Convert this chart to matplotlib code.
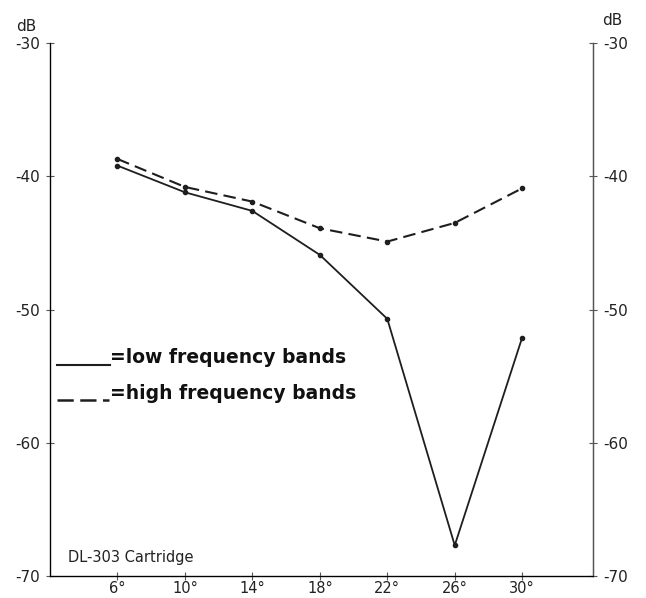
import numpy as np
import matplotlib
matplotlib.use('Agg')
import matplotlib.pyplot as plt

# values
angles = [6, 10, 14, 18, 22, 26, 30]
angle_labels = ['6°', '10°', '14°', '18°', '22°', '26°', '30°']
low_freq = [-39.2, -41.2, -42.6, -45.9, -50.7, -67.7, -52.1]
high_freq = [-38.7, -40.8, -41.9, -43.9, -44.9, -43.5, -40.9]
db_ticks = [-30, -40, -50, -60, -70]

fig = plt.figure(figsize=(6.46, 5.98), dpi=100)
ax = fig.add_axes([0.0774, 0.0368, 0.8406, 0.8912])

line_color = '#1e1e1e'
ax.plot(angles, low_freq, color=line_color, linewidth=1.3, marker='o', markersize=3)
ax.plot(angles, high_freq, color=line_color, linewidth=1.5, linestyle=(0, (6, 3)),
        marker='o', markersize=3)

ax.set_xlim(2, 34.2)
ax.set_ylim(-70, -30)
ax.spines['top'].set_visible(False)
for side in ['left', 'right', 'bottom']:
    ax.spines[side].set_color('#555555')
    ax.spines[side].set_linewidth(1.0)

ax.set_xticks(angles)
ax.set_xticklabels(angle_labels, fontsize=10.5, color='#222222')
ax.set_yticks(db_ticks)
ax.set_yticklabels([str(t) for t in db_ticks], fontsize=11, color='#222222')
ax.tick_params(axis='both', direction='inout', length=6, color='#555555')
ax.tick_params(axis='x', pad=0.5)
ax.tick_params(axis='y', pad=4)

# mirrored axis on the right
ax2 = ax.twinx()
ax2.set_ylim(-70, -30)
ax2.set_yticks(db_ticks)
ax2.set_yticklabels([str(t) for t in db_ticks], fontsize=11, color='#222222')
ax2.tick_params(axis='y', direction='inout', length=6, color='#555555', pad=4)
ax2.spines['top'].set_visible(False)
ax2.spines['right'].set_color('#555555')

fig.text(0.04, 0.955, 'dB', fontsize=11, color='#222222', ha='center', va='center')
fig.text(0.947, 0.965, 'dB', fontsize=11, color='#222222', ha='center', va='center')

ax.text(0.033, 0.02, 'DL-303 Cartridge', transform=ax.transAxes, fontsize=10.5,
        color='#222222', ha='left', va='bottom')

# hand-drawn style legend
ax.plot([0.012, 0.11], [0.396, 0.396], transform=ax.transAxes, color=line_color, linewidth=1.5)
ax.plot([0.012, 0.108], [0.33, 0.33], transform=ax.transAxes, color=line_color, linewidth=1.8,
        linestyle=(0, (6.5, 2.6)))
ax.text(0.11, 0.41, '=low frequency bands', transform=ax.transAxes, fontsize=13.5,
        fontweight='bold', family='DejaVu Sans', color='#111111', va='center')
ax.text(0.11, 0.343, '=high frequency bands', transform=ax.transAxes, fontsize=13.5,
        fontweight='bold', family='DejaVu Sans', color='#111111', va='center')

fig.savefig('out.png', dpi=100)
